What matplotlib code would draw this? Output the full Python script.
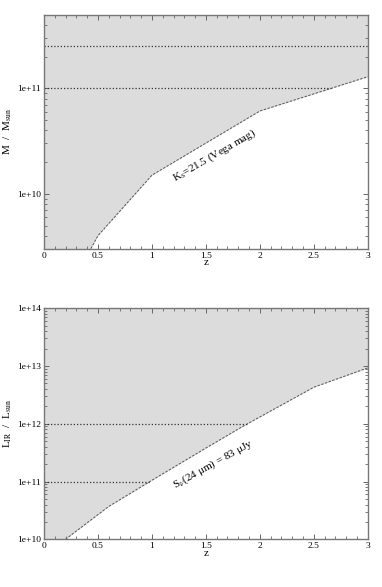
import numpy as np
import matplotlib
matplotlib.use('Agg')
import matplotlib.pyplot as plt
from matplotlib.ticker import MultipleLocator, LogLocator, NullFormatter

plt.rcParams['font.family'] = ['Liberation Serif', 'DejaVu Serif']
plt.rcParams['mathtext.fontset'] = 'stix'

# stellar mass limit, Ks = 21.5 (Vega)
mass_z = [0.4, 0.5, 1.0, 2.0, 3.0]
mass_lim = [2.6e9, 4.0e9, 1.5e10, 6.1e10, 1.29e11]
mass_levels = [1e11, 2.5e11]
mass_ylim = (3e9, 5e11)

# IR luminosity limit, S(24um) = 83 uJy
lir_z = [0.2, 0.6, 1.0, 1.5, 1.85, 2.5, 3.0]
lir_lim = [1.0e10, 3.7e10, 1.05e11, 3.8e11, 9.2e11, 4.3e12, 9.3e12]
lir_levels = [1e11, 1e12]
lir_ylim = (1e10, 1e14)

z_range = (0, 3)
fill_col = '#dcdcdc'
line_col = '#555555'


def draw_panel(ax, z, lim, levels, ylim, ylabel, note, note_pos, note_rot):
    z = np.asarray(z)
    lim = np.asarray(lim)
    xs = np.concatenate([[z_range[0]], z])
    ys = np.concatenate([[ylim[0]], lim])
    ax.fill_between(xs, ys, ylim[1], color=fill_col, lw=0)
    ax.plot(z, lim, color=line_col, lw=0.7, dashes=(2.5, 1.5))
    for lev in levels:
        zend = np.interp(np.log10(lev), np.log10(lim), z)
        ax.plot([z_range[0], zend], [lev, lev], color='#333333', lw=0.9,
                dashes=(1, 1.6))
    ax.text(note_pos[0], note_pos[1], note, rotation=note_rot, fontsize=8,
            ha='center', va='center', rotation_mode='anchor')

    ax.set_yscale('log')
    ax.set_xlim(z_range)
    ax.set_ylim(ylim)
    ax.xaxis.set_major_locator(MultipleLocator(0.5))
    ax.xaxis.set_minor_locator(MultipleLocator(0.1))
    ax.yaxis.set_major_locator(LogLocator(base=10, numticks=20))
    ax.yaxis.set_minor_locator(LogLocator(base=10, subs=np.arange(2, 10), numticks=20))
    ax.yaxis.set_minor_formatter(NullFormatter())
    ax.xaxis.set_major_formatter(plt.FuncFormatter(lambda v, p: '%g' % v))
    ax.yaxis.set_major_formatter(plt.FuncFormatter(
        lambda v, p: '1e+%d' % round(np.log10(v))))
    ax.tick_params(which='both', direction='in', top=True, right=True,
                   labelsize=6.8, color='#666666', pad=2)
    ax.tick_params(which='major', length=3.8, width=0.7)
    ax.tick_params(which='minor', length=2.0, width=0.6)
    for s in ax.spines.values():
        s.set_color('#777777')
        s.set_linewidth(1.0)
    ax.set_xlabel('z', fontsize=8, labelpad=-1)
    ax.set_ylabel(ylabel, fontsize=8, labelpad=2)


fig = plt.figure(figsize=(3.82, 5.87), dpi=100)
ax1 = fig.add_axes([0.115, 0.576, 0.848, 0.399])
ax2 = fig.add_axes([0.115, 0.0813, 0.848, 0.3935])

draw_panel(ax1, mass_z, mass_lim, mass_levels, mass_ylim,
           r'M  /  M$_{\rm sun}$', r'K$_{\rm s}$=21.5 (Vega mag)',
           (1.58, 2.3e10), 30)
draw_panel(ax2, lir_z, lir_lim, lir_levels, lir_ylim,
           r'L$_{\rm IR}$  /  L$_{\rm sun}$',
           r'S$_{\nu}$(24 μm) = 83 μJy',
           (1.57, 2.0e11), 29)

fig.savefig('out.png', dpi=100)
